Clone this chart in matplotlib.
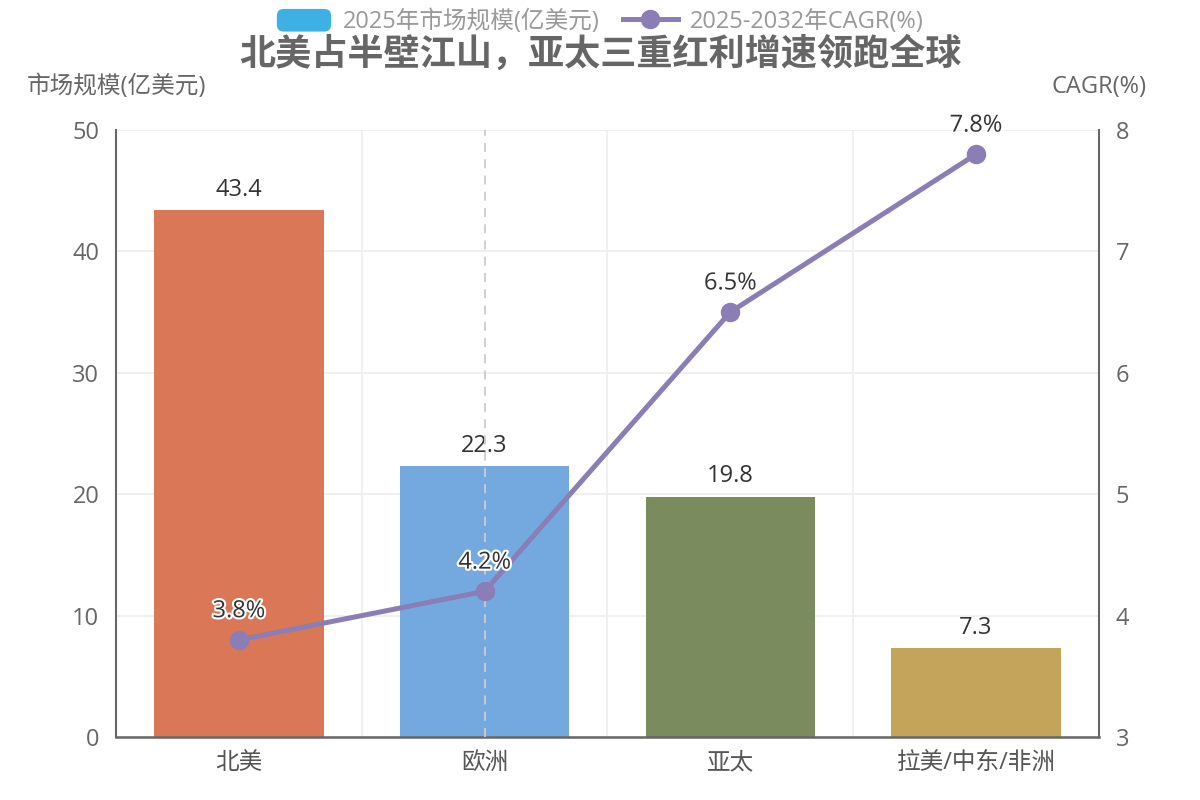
import numpy as np
import matplotlib.pyplot as plt
import matplotlib.patheffects as pe
from matplotlib.patches import FancyBboxPatch, Patch
from matplotlib.lines import Line2D
from matplotlib.legend_handler import HandlerPatch

plt.rcParams['font.family'] = ['Open Sans', 'Noto Sans CJK SC', 'DejaVu Sans']

# ── data ──────────────────────────────────────────────────────────────
regions     = ["北美", "欧洲", "亚太", "拉美/中东/非洲"]
market_size = [43.4, 22.3, 19.8, 7.3]          # 亿美元
cagr        = [3.8, 4.2, 6.5, 7.8]             # %

BAR_COLORS  = ["#DA7756", "#74A9DF", "#7A8B5D", "#C4A35A"]
LEGEND_BAR  = "#3DB1E3"
LINE_COLOR  = "#8B7DB6"
AXIS_COLOR  = "#666666"
TEXT_GRAY   = "#666666"
GRID_COLOR  = "#EEEEEE"
FS          = 17


class RoundedHandler(HandlerPatch):
    def create_artists(self, legend, orig_handle, xdescent, ydescent,
                       width, height, fontsize, trans):
        p = FancyBboxPatch((-xdescent, -ydescent), width, height,
                           boxstyle="round,pad=0,rounding_size=5",
                           facecolor=orig_handle.get_facecolor(),
                           edgecolor="none", transform=trans)
        return [p]


fig = plt.figure(figsize=(12, 8), dpi=100)
ax = fig.add_axes([0.0967, 0.07875, 0.819, 0.75875])
ax2 = ax.twinx()

x = np.arange(len(regions))

# ── bars ──────────────────────────────────────────────────────────────
ax.bar(x, market_size, width=0.69, color=BAR_COLORS, zorder=2)
for xi, v in zip(x, market_size):
    ax.annotate(f"{v}", (xi, v), xytext=(0, 6), textcoords="offset points",
                ha="center", va="bottom", fontsize=FS, color="#333333")

ax.set_xlim(-0.5, 3.5)
ax.set_ylim(0, 50)
ax.set_yticks([0, 10, 20, 30, 40, 50])
ax.set_xticks(x)
ax.set_xticklabels(regions)
ax.set_xticks([0.5, 1.5, 2.5], minor=True)

ax.grid(axis="y", color=GRID_COLOR, linewidth=1.2, zorder=0)
ax.grid(axis="x", which="minor", color=GRID_COLOR, linewidth=1.2, zorder=0)
ax.set_axisbelow(True)

# axis pointer on 欧洲
ax.axvline(1, color="#CCCCCC", linestyle=(0, (5, 4)), linewidth=1.3, zorder=3)

# ── line ──────────────────────────────────────────────────────────────
ax2.plot(x, cagr, color=LINE_COLOR, linewidth=3.6, marker="o",
         markersize=13, zorder=5)
ax2.set_ylim(3, 8)
ax2.set_yticks([3, 4, 5, 6, 7, 8])
for xi, v in zip(x, cagr):
    ax2.annotate(f"{v}%", (xi, v), xytext=(0, 12), textcoords="offset points",
                 ha="center", va="bottom", fontsize=FS, color="#333333",
                 path_effects=[pe.withStroke(linewidth=3, foreground="white")],
                 zorder=6)

# ── axes styling ──────────────────────────────────────────────────────
for a in (ax, ax2):
    a.spines["top"].set_visible(False)
    a.tick_params(axis="both", which="both", length=0, labelsize=FS,
                  labelcolor=TEXT_GRAY, pad=12)
ax.spines["left"].set_color(AXIS_COLOR)
ax.spines["bottom"].set_color(AXIS_COLOR)
ax.spines["left"].set_linewidth(1.5)
ax.spines["bottom"].set_linewidth(1.8)
ax.spines["right"].set_visible(False)
ax2.spines["left"].set_visible(False)
ax2.spines["bottom"].set_visible(False)
ax2.spines["right"].set_color(AXIS_COLOR)
ax2.spines["right"].set_linewidth(1.5)
ax.tick_params(axis="x", labelsize=FS, labelcolor="#555555", pad=10)

ax.text(0, 1.071, "市场规模(亿美元)", transform=ax.transAxes, ha="center",
        va="center", fontsize=FS, color=TEXT_GRAY)
ax2.text(1, 1.071, "CAGR(%)", transform=ax2.transAxes, ha="center",
         va="center", fontsize=FS, color=TEXT_GRAY)

# ── title & legend ────────────────────────────────────────────────────
fig.text(0.5, 0.931, "北美占半壁江山，亚太三重红利增速领跑全球", ha="center",
         va="center", fontsize=26, fontweight="bold", color=TEXT_GRAY)

handles = [Patch(facecolor=LEGEND_BAR),
           Line2D([], [], color=LINE_COLOR, linewidth=3.6, marker="o",
                  markersize=13)]
labels = ["2025年市场规模(亿美元)", "2025-2032年CAGR(%)"]
fig.legend(handles, labels, loc="center", bbox_to_anchor=(0.5, 0.973),
           ncol=2, frameon=False, fontsize=FS, labelcolor="#999999",
           handlelength=2.3, handleheight=1.1, handletextpad=0.5,
           columnspacing=1.0, handler_map={Patch: RoundedHandler()})

fig.savefig("out.png", dpi=100)
